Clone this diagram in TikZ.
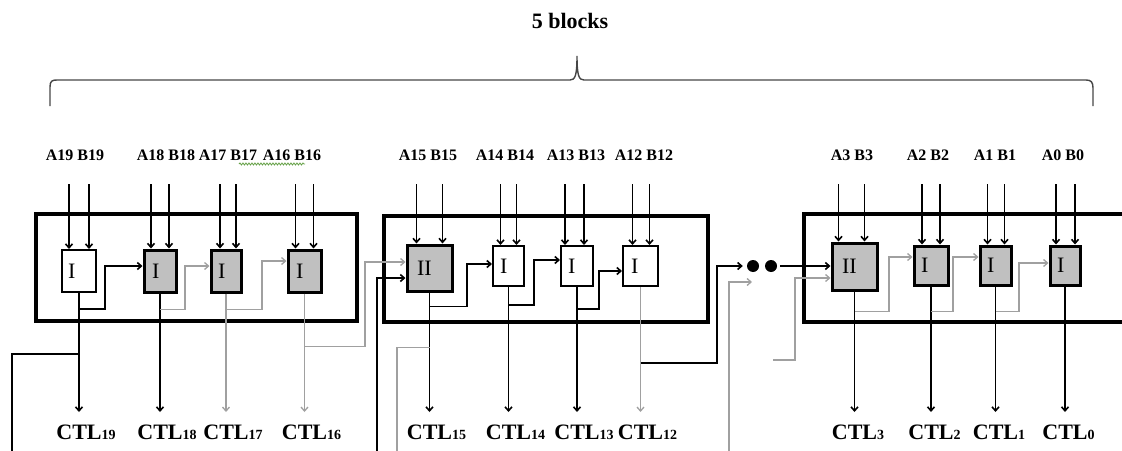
\documentclass[tikz,border=0pt]{standalone}
\usepackage{fontspec}
\setmainfont{Liberation Serif}
\usetikzlibrary{arrows.meta,calc,decorations.pathmorphing}
\definecolor{ln}{RGB}{160,160,160}
\definecolor{cellgray}{RGB}{192,192,192}
\definecolor{squig}{RGB}{100,160,70}
\definecolor{bracec}{RGB}{70,70,70}
\begin{document}
\begin{tikzpicture}[x=1pt,y=-1pt,
  >={Straight Barb[length=4pt,width=7pt]},
  blk/.style={draw=black,line width=1.6pt},
  gry/.style={draw=ln,line width=1.3pt},
  frame/.style={draw,line width=4pt,inner sep=0pt},
  wcell/.style={draw,line width=2pt,fill=white,inner ysep=0pt,align=left,font=\fontsize{22}{22}\selectfont},
  gcell/.style={wcell,line width=3pt,fill=cellgray},
  inlab/.style={font=\bfseries\fontsize{16}{16}\selectfont,anchor=base,inner sep=0pt},
  ctl/.style={font=\bfseries\fontsize{22}{22}\selectfont,anchor=north,inner xsep=0pt,inner ysep=13pt},
  dot/.style={circle,fill=black,minimum size=12pt,inner sep=0pt},
]
\useasboundingbox (0,0) rectangle (1122,450);
\clip (0,0) rectangle (1122,450);

% title and brace
\node[font=\bfseries\fontsize{22}{22}\selectfont] (title) at (570,21) {5 blocks};
\draw[bracec,line width=1.4pt] (50,106) -- (50,87) .. controls (50,81) and (52,80) .. (57,80)
  -- (570,80) .. controls (575,80) and (577,76) .. (577,56)
  .. controls (577,76) and (579,80) .. (584,80)
  -- (1086,80) .. controls (1091,80) and (1093,82) .. (1093,88) -- (1093,106);

% block frames
\node[frame,minimum width=321pt,minimum height=107pt] (blk1) at (196.5,267.5) {};
\node[frame,minimum width=324pt,minimum height=106pt] (blk2) at (546,269) {};
\node[frame,minimum width=337pt,minimum height=108pt] (blk3) at (972,268) {};

% cells
\node[wcell,text width=22pt,inner xsep=6pt,minimum height=42pt] (b19) at (79,271) {I};
\node[gcell,text width=16pt,inner xsep=8pt,minimum height=42pt] (b18) at (160,271) {I};
\node[gcell,text width=16pt,inner xsep=7pt,minimum height=42pt] (b17) at (226,271) {I};
\node[gcell,text width=17pt,inner xsep=8pt,minimum height=42pt] (b16) at (304.5,271) {I};

\node[gcell,text width=25pt,inner xsep=10pt,minimum height=46pt] (b15) at (429.5,268) {II};
\node[wcell,text width=17pt,inner xsep=7pt,minimum height=40pt] (b14) at (508.5,266) {I};
\node[wcell,text width=18pt,inner xsep=7pt,minimum height=40pt] (b13) at (577,266) {I};
\node[wcell,text width=19pt,inner xsep=8pt,minimum height=40pt] (b12) at (640.5,266) {I};

\node[gcell,text width=25pt,inner xsep=10pt,minimum height=47pt] (b3) at (854.5,266.5) {II};
\node[gcell,text width=20pt,inner xsep=7pt,minimum height=39pt] (b2) at (931,265.5) {I};
\node[gcell,text width=17pt,inner xsep=7pt,minimum height=39pt] (b1) at (995.5,265.5) {I};
\node[gcell,text width=16pt,inner xsep=7pt,minimum height=39pt] (b0) at (1065,265.5) {I};

% input labels
\node[inlab] (t19) at (75,160) {A19 B19};
\node[inlab] (t18) at (166,160) {A18 B18};
\node[inlab] (t17) at (228,160) {A17 B17};
\node[inlab] (t16) at (292,160) {A16 B16};
\node[inlab] (t15) at (428,160) {A15 B15};
\node[inlab] (t14) at (505,160) {A14 B14};
\node[inlab] (t13) at (576,160) {A13 B13};
\node[inlab] (t12) at (644,160) {A12 B12};
\node[inlab] (t3) at (852,160) {A3 B3};
\node[inlab] (t2) at (928,160) {A2 B2};
\node[inlab] (t1) at (995,160) {A1 B1};
\node[inlab] (t0) at (1063,160) {A0 B0};
\draw[squig,line width=0.8pt,decorate,decoration={snake,amplitude=1pt,segment length=3pt}] (239,164) -- (305,164);

% inputs
\coordinate (intop) at (0,184);
\coordinate (outbot) at (0,412);
\foreach \b/\l/\r in {b19/-10/10,b18/-9/9,b17/-6/10,b16/-9/9,b15/-13/13,b14/-8/8,b13/-12/7,b12/-8/9,b3/-16/10,b2/-9/9,b1/-8/9,b0/-9/10}{
  \coordinate (\b-a) at ([xshift=\l pt]\b.north);
  \coordinate (\b-b) at ([xshift=\r pt]\b.north);
  \draw[blk,->] (intop -| \b-a) -- (\b-a);
  \draw[blk,->] (intop -| \b-b) -- (\b-b);
}

% outputs
\foreach \b/\s/\d in {b19/blk/19,b18/blk/18,b17/gry/17,b16/gry/16,b15/blk/15,b14/blk/14,b13/blk/13,b12/gry/12,b3/blk/3,b2/blk/2,b1/blk/1,b0/blk/0}{
  \node[ctl] (c\d) at (\b.south |- outbot) {CTL\rlap{\fontsize{14}{14}\selectfont\d}};
  \draw[\s,->] (\b) -- (c\d);
}

% carries block 1
\draw[blk,->] (b19.south) ++(0,16) -- ++(26,0) |- ([yshift=5pt]b18.west);
\draw[gry,->] (b18.south) ++(0,16) -- ++(25,0) |- ([yshift=5pt]b17.west);
\draw[gry,->] (b17.south) ++(0,16) -- ++(36,0) |- ([yshift=10pt]b16.west);
% carries block 2
\draw[blk,->] (b15.south) ++(0,14) -- ++(37.5,0) |- ([yshift=2pt]b14.west);
\draw[blk,->] (b14.south) ++(0,18) -- ++(25.5,0) |- ([yshift=6pt]b13.west);
\draw[blk,->] (b13.south) ++(0,22) -- ++(22,0) |- ([yshift=-5pt]b12.west);
% carries block 3
\draw[gry,->] (b3.south) ++(0,20) -- ++(34.5,0) |- ([yshift=8.5pt]b2.west);
\draw[gry,->] (b2.south) ++(0,25) -- ++(22,0) |- ([yshift=8.5pt]b1.west);
\draw[gry,->] (b1.south) ++(0,25) -- ++(23.5,0) |- ([yshift=2.5pt]b0.west);

% links between blocks
\draw[gry,->] (b16.south) ++(0,53) -- ++(60.5,0) |- ([yshift=6pt]b15.west);
\draw[blk] (b19.south) ++(0,61) -- ++(-67,0) -- ++(0,110);
\coordinate (lnk1) at (377,460);
\draw[blk,->] (lnk1) |- ([yshift=-10pt]b15.west);
\coordinate (lnk2) at (397,460);
\draw[gry] (lnk2) |- ([yshift=-55pt]b15.south);

\node[dot] (d1) at (753,266) {};
\node[dot] (d2) at (771,266) {};
\draw[blk,->] (b12.south) ++(0,76) -- ++(76.5,0) |- ([xshift=-4pt]d1.west);
\draw[blk,->] ([xshift=3pt]d2.east) -- (b3.west |- d2);
\coordinate (lnk3) at (729,460);
\coordinate (lnk3e) at (752,282);
\draw[gry,->] (lnk3) |- (lnk3e);
\coordinate (lnk4) at (773,360);
\draw[gry,->] (lnk4) -- ++(22,0) |- ([yshift=-11.5pt]b3.west);
\end{tikzpicture}
\end{document}
